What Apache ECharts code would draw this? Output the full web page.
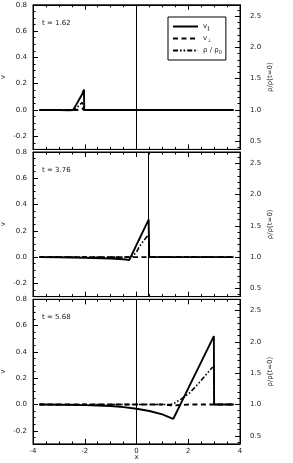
<!DOCTYPE html>
<html><head><meta charset="utf-8">
<script src="https://cdn.jsdelivr.net/npm/echarts@6/dist/echarts.min.js"></script>
<style>html,body{margin:0;padding:0;background:#fff}#c{width:293px;height:463px}</style>
</head><body><div id="c"></div>
<script>
// ---- data ----
const times = ['t = 1.62', 't = 3.76', 't = 5.68'];
const vLines = [0, 0.455, 0];

const p1X     = [-3.75, -3.0, -2.6, -2.45, -2.3, -2.2, -2.1, -2.03, -2.02, -1.5, 0, 2, 3.75];
const p1Vpar  = [0, 0, -0.002, 0.0, 0.05, 0.085, 0.12, 0.155, 0, 0, 0, 0, 0];
const p1Vperp = [0, 0, 0, 0, 0, 0.005, 0.01, 0.01, 0, 0, 0, 0, 0];
const p1Rho   = [1, 1, 1, 1, 1.04, 1.08, 1.12, 1.14, 1, 1, 1, 1, 1];

const p2X     = [-3.75, -3, -2, -1, -0.5, -0.28, -0.2, 0, 0.11, 0.2, 0.33, 0.47, 0.48, 0.49, 1, 2, 3.75];
const p2Vpar  = [0, -0.001, -0.004, -0.01, -0.016, -0.022, 0.011, 0.093, 0.138, 0.175, 0.228, 0.286, 0.29, 0, 0, 0, 0];
const p2Vperp = [0, 0, 0, 0, 0, 0, 0, 0, 0, 0, 0, 0, 0, 0, 0, 0, 0];
const p2Rho   = [1, 1, 1, 1, 1, 1, 1.0, 1.08, 1.17, 1.22, 1.29, 1.36, 1.36, 1, 1, 1, 1];

const p3X     = [-3.75, -3, -2, -1, -0.5, 0, 0.5, 1, 1.3, 1.42, 1.49, 1.74, 2.07, 2.45, 2.9, 2.99, 3.0, 3.5, 3.75];
const p3Vpar  = [0, -0.002, -0.005, -0.012, -0.02, -0.033, -0.05, -0.075, -0.1, -0.11, -0.082, 0.018, 0.151, 0.303, 0.484, 0.52, 0, 0, 0];
const p3Vperp = [0, 0, 0, 0, 0, 0, 0, 0, -0.006, -0.008, -0.007, -0.004, 0, 0, 0, 0, 0, 0, 0];
const p3Rho   = [1, 1, 1, 1, 1, 1, 1, 1, 1, 1.01, 1.04, 1.09, 1.19, 1.36, 1.58, 1.6, 1, 1, 1];

const vTicks = [-0.2, 0, 0.2, 0.4, 0.6, 0.8];
const vMinor = [-0.25, -0.15, -0.1, -0.05, 0.05, 0.1, 0.15, 0.25, 0.3, 0.35, 0.45, 0.5, 0.55, 0.65, 0.7, 0.75];
const rhoTicks = [0.5, 1.0, 1.5, 2.0, 2.5];
const rhoMinor = [0.4, 0.6, 0.7, 0.8, 0.9, 1.1, 1.2, 1.3, 1.4, 1.6, 1.7, 1.8, 1.9, 2.1, 2.2, 2.3, 2.4, 2.6];
const xTicks = [-4, -2, 0, 2, 4];

const names = ['v{s|∥}', 'v{s|⊥}', 'ρ / ρ{s|0}'];
const panels = [
  {x: p1X, vpar: p1Vpar, vperp: p1Vperp, rho: p1Rho},
  {x: p2X, vpar: p2Vpar, vperp: p2Vperp, rho: p2Rho},
  {x: p3X, vpar: p3Vpar, vperp: p3Vperp, rho: p3Rho}
];

// ---- layout ----
const FONT = 'DejaVu Sans';
const tops = [4.8, 152, 299.3];
const H = 144.6;
const txt = {fontFamily: FONT, fontSize: 7, color: '#222'};
const zip = (xs, ys) => xs.map((x, i) => [x, ys[i]]);

const grid = [], xAxis = [], yAxis = [], series = [], graphic = [];
panels.forEach((p, i) => {
  grid.push({left: 33, right: 53, top: tops[i], height: H, show: true, borderColor: '#000', borderWidth: 1,
    backgroundColor: 'transparent', containLabel: false, outerBoundsMode: 'none'});
  const last = i === 2;
  ['bottom', 'top'].forEach(pos => {
    xAxis.push({
      type: 'value', gridIndex: i, position: pos, min: -4, max: 4, interval: 2,
      axisLine: {show: true, onZero: false, lineStyle: {color: '#000', width: 1}},
      axisTick: {show: true, inside: true, length: 5, lineStyle: {color: '#000'}},
      minorTick: {show: true, splitNumber: 4, length: 2.5, lineStyle: {color: '#000'}},
      axisLabel: {show: last && pos === 'bottom', margin: 4, ...txt},
      splitLine: {show: false},
      name: (last && pos === 'bottom') ? 'x' : '', nameLocation: 'middle', nameGap: 10,
      nameMoveOverlap: false, nameTextStyle: txt
    });
  });
  // v axis
  yAxis.push({
    type: 'value', gridIndex: i, position: 'left', min: -0.3, max: 0.8,
    axisLine: {show: true, onZero: false, lineStyle: {color: '#000'}},
    axisTick: {show: true, inside: true, length: 5, customValues: vTicks, lineStyle: {color: '#000'}},
    axisLabel: {show: true, margin: 6, customValues: vTicks, formatter: v => v.toFixed(1), ...txt},
    splitLine: {show: false},
    name: 'v', nameLocation: 'middle', nameGap: 26, nameRotate: 90, nameMoveOverlap: false, nameTextStyle: txt
  });
  yAxis.push({
    type: 'value', gridIndex: i, position: 'left', min: -0.3, max: 0.8,
    axisLine: {show: false, onZero: false},
    axisTick: {show: true, inside: true, length: 2.5, customValues: vMinor, lineStyle: {color: '#000'}},
    axisLabel: {show: false}, splitLine: {show: false}
  });
  // rho axis
  yAxis.push({
    type: 'value', gridIndex: i, position: 'right', min: 0.37, max: 2.68,
    axisLine: {show: true, onZero: false, lineStyle: {color: '#000'}},
    axisTick: {show: true, inside: true, length: 5, customValues: rhoTicks, lineStyle: {color: '#000'}},
    axisLabel: {show: true, margin: 10, customValues: rhoTicks, formatter: v => v.toFixed(1), ...txt},
    splitLine: {show: false},
    name: 'ρ/ρ(t=0)', nameLocation: 'middle', nameGap: 27, nameRotate: 90, nameMoveOverlap: false, nameTextStyle: txt
  });
  yAxis.push({
    type: 'value', gridIndex: i, position: 'right', min: 0.37, max: 2.68,
    axisLine: {show: false, onZero: false},
    axisTick: {show: true, inside: true, length: 2.5, customValues: rhoMinor, lineStyle: {color: '#000'}},
    axisLabel: {show: false}, splitLine: {show: false}
  });
  const base = {type: 'line', xAxisIndex: 2 * i, symbol: 'none', showSymbol: false, color: '#000', animation: false, silent: true};
  series.push({...base, name: names[2], yAxisIndex: 4 * i + 2, data: zip(p.x, p.rho),
    lineStyle: {color: '#000', width: 1.6, type: [5, 2, 1.6, 2, 1.6, 2]}, z: 2});
  series.push({...base, name: names[1], yAxisIndex: 4 * i, data: zip(p.x, p.vperp),
    lineStyle: {color: '#000', width: 1.9, type: [5, 3.5]}, z: 3});
  series.push({...base, name: names[0], yAxisIndex: 4 * i, data: zip(p.x, p.vpar),
    lineStyle: {color: '#000', width: 1.9, type: 'solid'}, z: 4,
    markLine: {symbol: 'none', silent: true, animation: false, label: {show: false},
      lineStyle: {color: '#000', width: 1, type: 'solid'}, data: [{xAxis: vLines[i]}]}});
  graphic.push({type: 'text', left: 42, top: tops[i] + 14.5, style: {text: times[i], font: '7px "DejaVu Sans"', fill: '#222'}});
});

const chart = echarts.init(document.getElementById('c'), null, {renderer: 'canvas'});
chart.setOption({
  animation: false,
  backgroundColor: '#fff',
  grid, xAxis, yAxis, series, graphic,
  legend: {
    data: names, orient: 'vertical', left: 168, top: 17, itemWidth: 25, itemHeight: 8, itemGap: 4,
    padding: [6, 4, 5, 4], borderColor: '#000', borderWidth: 1, borderRadius: 0,
    selectedMode: false, itemStyle: {opacity: 0},
    textStyle: {fontFamily: FONT, fontSize: 7, color: '#222', rich: {s: {fontFamily: FONT, fontSize: 5, verticalAlign: 'bottom', padding: [4, 0, 0, 0]}}}
  }
});
</script></body></html>
